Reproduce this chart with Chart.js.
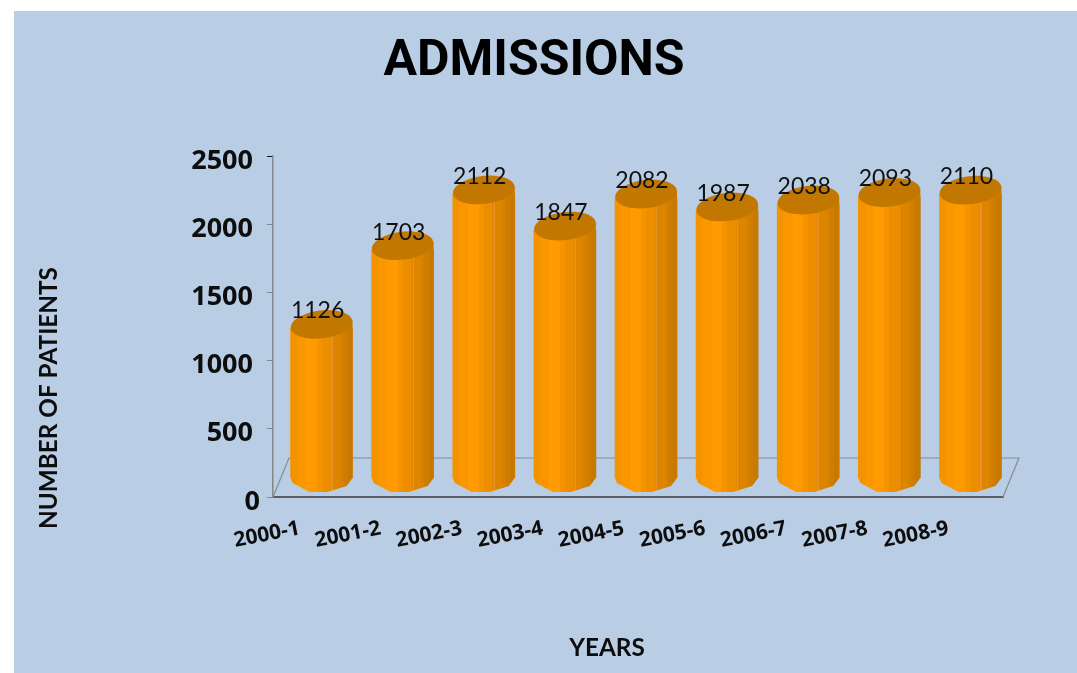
<!DOCTYPE html>
<html lang="en">
<head>
    <meta charset="UTF-8">
    <title>Admissions</title>
    <style>
        body {
            margin: 0;
            background: #fff;
            overflow: hidden;
        }
        canvas {
            position: absolute;
            left: 14px;
            top: 11px;
            background: #b9cde5;
        }
    </style>
    <script src="https://cdn.jsdelivr.net/npm/chart.js"></script>
</head>
<body>

<canvas id="chart" width="1063" height="662"></canvas>

<script>
    const years = ['2000-1', '2001-2', '2002-3', '2003-4', '2004-5', '2005-6', '2006-7', '2007-8', '2008-9'];
    const admissions = [1126, 1703, 2112, 1847, 2082, 1987, 2038, 2093, 2110];
    const yTicks = [0, 500, 1000, 1500, 2000, 2500];

    const BAR_WIDTH = 62;
    const DEPTH_X = 16, DEPTH_Y = 39;   // floor depth of the fake 3D box
    const BAR_SHIFT_X = 8, BAR_SHIFT_Y = 18;   // cylinders stand in the middle of the floor
    const RECT_DROP = 3;   // bar body starts a bit under the cap so its corners hide behind it

    // vertical facets of the cylinder, left to right
    const facets = [
        [0, '#f49300'], [0.1, '#fa9700'], [0.25, '#ff9c06'], [0.27, '#ff9a00'], [0.42, '#f59300'],
        [0.5, '#ec8e00'], [0.64, '#e48900'], [0.66, '#e7922a'], [0.68, '#de8500'],
        [0.8, '#d68100'], [0.85, '#cf7d00'], [0.92, '#c97900'], [1, '#bf7300']
    ];

    function barGradient(chart, i) {
        const cx = chart.scales.x.getPixelForValue(i);
        const g = chart.ctx.createLinearGradient(cx - BAR_WIDTH / 2, 0, cx + BAR_WIDTH / 2, 0);
        let prev = facets[0][1];
        facets.forEach(f => {
            g.addColorStop(f[0], prev);   // hard stops so it looks like flat facets
            g.addColorStop(f[0], f[1]);
            prev = f[1];
        });
        return g;
    }

    // floor of the 3D box, drawn under the bars
    const floorPlugin = {
        id: 'floor',
        beforeDatasetsDraw(chart) {
            const { ctx, chartArea: a } = chart;
            ctx.save();
            ctx.strokeStyle = '#858b93';
            ctx.lineWidth = 1.2;
            ctx.beginPath();
            ctx.moveTo(a.left, a.bottom);
            ctx.lineTo(a.left + DEPTH_X, a.bottom - DEPTH_Y);
            ctx.lineTo(a.right + DEPTH_X, a.bottom - DEPTH_Y);
            ctx.lineTo(a.right, a.bottom);
            ctx.stroke();
            ctx.restore();
        }
    };

    // pushes the bars back into the box and adds the round bottom and top cap
    const cylinderPlugin = {
        id: 'cylinder',
        beforeDatasetDraw(chart) {
            chart.ctx.save();
            chart.ctx.translate(BAR_SHIFT_X, RECT_DROP - BAR_SHIFT_Y);
        },
        afterDatasetDraw(chart, args) {
            const ctx = chart.ctx;
            const base = chart.scales.y.getPixelForValue(0) - RECT_DROP;
            args.meta.data.forEach((bar, i) => {
                const r = BAR_WIDTH / 2;
                const capY = bar.y - RECT_DROP - 1;
                ctx.fillStyle = barGradient(chart, i);
                ctx.beginPath();
                ctx.moveTo(bar.x - r, base - 1);
                ctx.lineTo(bar.x - r + 2, base + 4);
                ctx.lineTo(bar.x - 12, base + 13);
                ctx.lineTo(bar.x + 6, base + 13);
                ctx.lineTo(bar.x + 25, base + 7);
                ctx.lineTo(bar.x + r, base - 1);
                ctx.closePath();
                ctx.fill();

                // right side runs up to the tilted cap
                ctx.fillRect(bar.x, capY - 3.7, r, 8);

                ctx.fillStyle = '#c27700';
                ctx.beginPath();
                ctx.ellipse(bar.x, capY, r, 14, -0.12, 0, Math.PI * 2);
                ctx.fill();
            });
            ctx.restore();
        }
    };

    const valueLabelPlugin = {
        id: 'valueLabels',
        afterDatasetsDraw(chart) {
            const ctx = chart.ctx;
            ctx.save();
            ctx.font = '23px Lato';
            ctx.fillStyle = '#111';
            ctx.textAlign = 'center';
            ctx.textBaseline = 'middle';
            chart.getDatasetMeta(0).data.forEach((bar, i) => {
                ctx.fillText(admissions[i], bar.x + BAR_SHIFT_X - 4, bar.y - BAR_SHIFT_Y - 14.5);
            });
            ctx.restore();
        }
    };

    // axis captions do not sit centred on the axes here, so place them by hand
    const captionPlugin = {
        id: 'captions',
        afterDraw(chart) {
            const ctx = chart.ctx;
            ctx.save();
            ctx.font = 'bold 24.3px Lato';
            ctx.fillStyle = '#0d0d0d';
            ctx.textAlign = 'center';
            ctx.textBaseline = 'middle';
            ctx.fillText('YEARS', 593, 637);
            ctx.translate(35.5, 387);
            ctx.rotate(-Math.PI / 2);
            ctx.fillText('NUMBER OF PATIENTS', 0, 0);
            ctx.restore();
        }
    };

    new Chart(document.getElementById('chart'), {
        type: 'bar',
        data: {
            labels: years,
            datasets: [{
                label: 'Admissions',
                data: admissions,
                barThickness: BAR_WIDTH,
                clip: { left: 5, right: 5, top: 5, bottom: -4 },
                backgroundColor: c => c.chart.chartArea ? barGradient(c.chart, c.dataIndex) : '#f49300'
            }]
        },
        plugins: [floorPlugin, cylinderPlugin, valueLabelPlugin, captionPlugin],
        options: {
            responsive: false,
            animation: false,
            layout: { padding: { left: 51, right: 74, top: 0, bottom: 0 } },
            plugins: {
                legend: { display: false },
                tooltip: { enabled: false },
                title: {
                    display: true,
                    text: 'ADMISSIONS',
                    color: '#000',
                    font: { family: 'Roboto', size: 50, weight: 'bold' },
                    padding: { top: 21, bottom: 64 }
                }
            },
            scales: {
                x: {
                    afterFit: s => { s.height = 176; },
                    grid: { display: false },
                    border: { color: '#595c61', width: 2 },
                    ticks: {
                        autoSkip: false,
                        minRotation: 11,
                        maxRotation: 11,
                        labelOffset: -14,
                        padding: 11,
                        color: '#0d0d0d',
                        font: { family: 'Open Sans', size: 21, weight: 'bold' }
                    }
                },
                y: {
                    min: 0,
                    max: 2500,
                    afterFit: s => { s.width = 208; },
                    afterBuildTicks: s => { s.ticks = yTicks.map(v => ({ value: v })); },
                    grid: {
                        drawOnChartArea: false,
                        tickLength: 6,
                        tickColor: c => c.tick && c.tick.value === 2500 ? '#111' : '#868686'
                    },
                    border: { color: '#868686', width: 1.5 },
                    ticks: {
                        padding: 7,
                        labelOffset: 5,
                        color: '#0d0d0d',
                        font: { family: 'Open Sans', size: 27, weight: 'bold' },
                        callback: v => v === 0 ? '0' : v + ' '
                    }
                }
            }
        }
    });
</script>

</body>
</html>
